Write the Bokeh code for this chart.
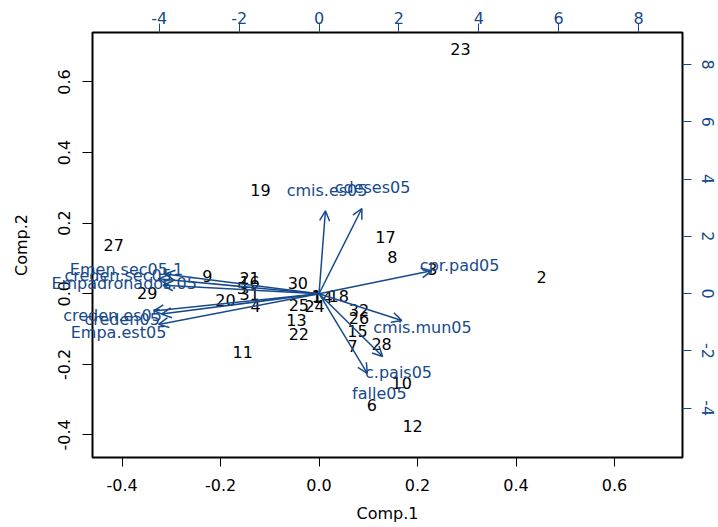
from bokeh.plotting import figure
from bokeh.layouts import column
from bokeh.models import Range1d, LinearAxis, FixedTicker, PrintfTickFormatter, Arrow, OpenHead, ColumnDataSource
from bokeh.embed import file_html
from bokeh.resources import INLINE
from bokeh.core.properties import value

# ---- data ----
obs_labels = [str(i) for i in range(1, 33)]
comp1 = [-0.005, 0.452, 0.230, -0.129, -0.157, 0.107, 0.068, 0.149, -0.227, 0.168,
         -0.155, 0.190, -0.046, 0.007, 0.078, -0.141, 0.135, 0.040, -0.119, -0.190,
         -0.141, -0.041, 0.287, -0.009, -0.041, 0.081, -0.417, 0.127, -0.349, -0.043,
         -0.141, 0.081]
comp2 = [-0.007, 0.047, 0.069, -0.034, 0.015, -0.316, -0.149, 0.103, 0.050, -0.254,
         -0.166, -0.375, -0.074, -0.010, -0.106, 0.032, 0.160, -0.007, 0.293, -0.018,
         0.045, -0.115, 0.693, -0.034, -0.033, -0.070, 0.137, -0.143, 0.002, 0.029,
         -0.002, -0.045]

var_names = ["Emen.sec05.1", "creden.sec05", "Empadronados.05", "creden.es05", "creden05",
             "Empa.est05", "cmis.es05", "cdeses05", "cpr.pad05", "cmis.mun05", "c.pais05", "falle05"]
load1 = [-4.82, -5.03, -4.88, -5.17, -4.93, -5.02, 0.20, 1.34, 3.52, 2.59, 1.99, 1.51]
load2 = [0.86, 0.65, 0.37, -0.75, -0.89, -1.34, 3.62, 3.72, 1.00, -1.17, -2.74, -3.48]

x_ticks = [-0.4, -0.2, 0.0, 0.2, 0.4, 0.6]
y_ticks = [-0.4, -0.2, 0.0, 0.2, 0.4, 0.6]
top_ticks = [-4, -2, 0, 2, 4, 6, 8]
right_ticks = [-4, -2, 0, 2, 4, 6, 8]

xlim = (-0.46, 0.738)
ylim = (-0.464, 0.740)
ratio = 12.33

BLUE = "#174a8b"
FONT = "DejaVu Sans"
FS = "16px"

FW, FH = 590, 425
BL, BT, BR, BB = 92, 32, 36, 70

p = figure(frame_width=FW, frame_height=FH,
           x_range=Range1d(*xlim), y_range=Range1d(*ylim),
           output_backend="svg", toolbar_location=None,
           min_border_left=BL, min_border_top=BT, min_border_right=BR, min_border_bottom=BB,
           x_axis_label="Comp.1", y_axis_label="Comp.2")
top_range = Range1d(xlim[0] * ratio, xlim[1] * ratio)
right_range = Range1d(ylim[0] * ratio, ylim[1] * ratio)
p.extra_x_ranges = {"top": top_range}
p.extra_y_ranges = {"right": right_range}

p.xgrid.grid_line_color = None
p.ygrid.grid_line_color = None
p.outline_line_color = "black"
p.outline_line_width = 2
p.background_fill_color = "white"
p.border_fill_color = "white"

def style_axis(ax, color, ticks, fmt, orient, tick_out, standoff):
    ax.ticker = FixedTicker(ticks=ticks)
    ax.formatter = PrintfTickFormatter(format=fmt)
    ax.axis_line_color = None
    ax.major_tick_line_color = color
    ax.major_tick_in = 0
    ax.major_tick_out = tick_out
    ax.minor_tick_line_color = None
    ax.major_label_text_color = color
    ax.major_label_text_font = FONT
    ax.major_label_text_font_size = FS
    ax.major_label_standoff = standoff
    ax.major_label_orientation = orient
    ax.axis_label_text_font = FONT
    ax.axis_label_text_font_size = FS
    ax.axis_label_text_font_style = "normal"
    ax.axis_label_text_color = "black"

style_axis(p.xaxis[0], "black", x_ticks, "%.1f", "horizontal", 9, 12)
p.xaxis[0].axis_label_standoff = 10
style_axis(p.yaxis[0], "black", y_ticks, "%.1f", "vertical", 10, 12)
p.yaxis[0].axis_label_standoff = 25

top_ax = LinearAxis(x_range_name="top")
style_axis(top_ax, BLUE, top_ticks, "%d", "horizontal", 9, 0)
p.add_layout(top_ax, "above")
right_ax = LinearAxis(y_range_name="right")
style_axis(right_ax, BLUE, right_ticks, "%d", "vertical", 9, 10)
p.add_layout(right_ax, "right")

# observation labels
obs_src = ColumnDataSource(dict(x=comp1, y=comp2, t=obs_labels))
p.text(x="x", y="y", text="t", source=obs_src, text_align="center", text_baseline="middle",
       text_font=value(FONT), text_font_size=FS, text_color="black")

# variable arrows (to 0.8 of the loading)
arr_src = ColumnDataSource(dict(x0=[0.0] * len(load1), y0=[0.0] * len(load2),
                                x1=[v * 0.8 for v in load1], y1=[v * 0.8 for v in load2]))
p.add_layout(Arrow(end=OpenHead(size=10, line_color=BLUE, line_width=1.5),
                   x_start="x0", y_start="y0", x_end="x1", y_end="y1", source=arr_src,
                   x_range_name="top", y_range_name="right",
                   line_color=BLUE, line_width=1.5))

# transparent overlay figure whose frame also covers the left margin, so that
# variable labels reaching past the box (as in R with xpd) are not clipped.
# The column aligns its frames, so the overlay is shifted left by the border.
span = (xlim[1] - xlim[0]) * ratio
q = figure(frame_width=FW + BL, frame_height=FH,
           x_range=Range1d(top_range.start - span * BL / FW, top_range.end),
           y_range=right_range,
           output_backend="svg", toolbar_location=None,
           x_axis_location=None, y_axis_location=None,
           min_border_left=0, min_border_top=BT, min_border_right=BR, min_border_bottom=BB)
q.grid.visible = False
q.outline_line_color = None
q.background_fill_alpha = 0
q.border_fill_alpha = 0
var_src = ColumnDataSource(dict(x=load1, y=load2, t=var_names))
q.text(x="x", y="y", text="t", source=var_src, text_align="center", text_baseline="middle",
       text_font=value(FONT), text_font_size=FS, text_color=BLUE)
q.styles = {"position": "absolute", "left": "-%dpx" % BL, "top": "0px"}

layout = column(p, q)
open("out.html", "w").write(file_html(layout, INLINE))
